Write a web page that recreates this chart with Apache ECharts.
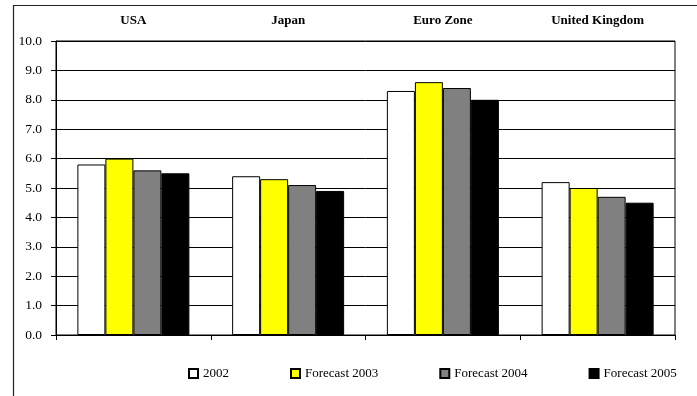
<!DOCTYPE html>
<html>
<head>
<meta charset="utf-8">
<script src="https://cdn.jsdelivr.net/npm/echarts@6/dist/echarts.min.js"></script>
<style>html,body{margin:0;padding:0;background:#fff;}#c{width:697px;height:396px;}</style>
</head>
<body>
<div id="c"></div>
<script>
var categories = ['USA', 'Japan', 'Euro Zone', 'United Kingdom'];
var seriesNames = ['2002', 'Forecast 2003', 'Forecast 2004', 'Forecast 2005'];
var v2002 = [5.8, 5.4, 8.3, 5.2];
var f2003 = [6.0, 5.3, 8.6, 5.0];
var f2004 = [5.6, 5.1, 8.4, 4.7];
var f2005 = [5.5, 4.9, 8.0, 4.5];
var colors = ['#FFFFFF', '#FFFF00', '#808080', '#000000'];
var values = [v2002, f2003, f2004, f2005];

var font = 'Liberation Serif';
var chart = echarts.init(document.getElementById('c'), null, {renderer: 'canvas'});
var series = seriesNames.map(function (n, i) {
  return {
    name: n, type: 'bar', data: values[i], barWidth: 28, barGap: '0%',
    xAxisIndex: 0,
    itemStyle: {color: colors[i], borderColor: '#000', borderWidth: 1}
  };
});
chart.setOption({
  animation: false,
  backgroundColor: '#fff',
  textStyle: {fontFamily: font},
  graphic: [{
    type: 'rect', shape: {x: 13.5, y: 5.5, width: 720, height: 420},
    style: {fill: null, stroke: '#222', lineWidth: 1.2}
  }],
  grid: {left: 56, right: 22, top: 41, bottom: 61, show: true, borderColor: '#000', borderWidth: 1},
  legend: {
    top: 367, left: 188, padding: 0, itemGap: 61, itemWidth: 9, itemHeight: 9, icon: 'rect',
    textStyle: {fontFamily: font, fontSize: 13, color: '#000'},
    data: seriesNames
  },
  xAxis: [{
    type: 'category', data: categories, position: 'bottom',
    axisLine: {lineStyle: {color: '#000'}},
    axisTick: {show: true, length: 5, lineStyle: {color: '#000'}},
    axisLabel: {show: false}
  }, {
    type: 'category', data: categories, position: 'top',
    axisLine: {show: false}, axisTick: {show: false},
    axisLabel: {fontFamily: font, fontSize: 13, fontWeight: 'bold', color: '#000', margin: 14}
  }],
  yAxis: {
    type: 'value', min: 0, max: 10, interval: 1,
    axisLine: {show: true, lineStyle: {color: '#000'}},
    axisTick: {show: true, length: 5, lineStyle: {color: '#000'}},
    splitLine: {lineStyle: {color: '#000', width: 1}},
    axisLabel: {fontFamily: font, fontSize: 13.5, color: '#000', margin: 14,
      formatter: function (v) { return v.toFixed(1); }}
  },
  series: series
});
</script>
</body>
</html>
